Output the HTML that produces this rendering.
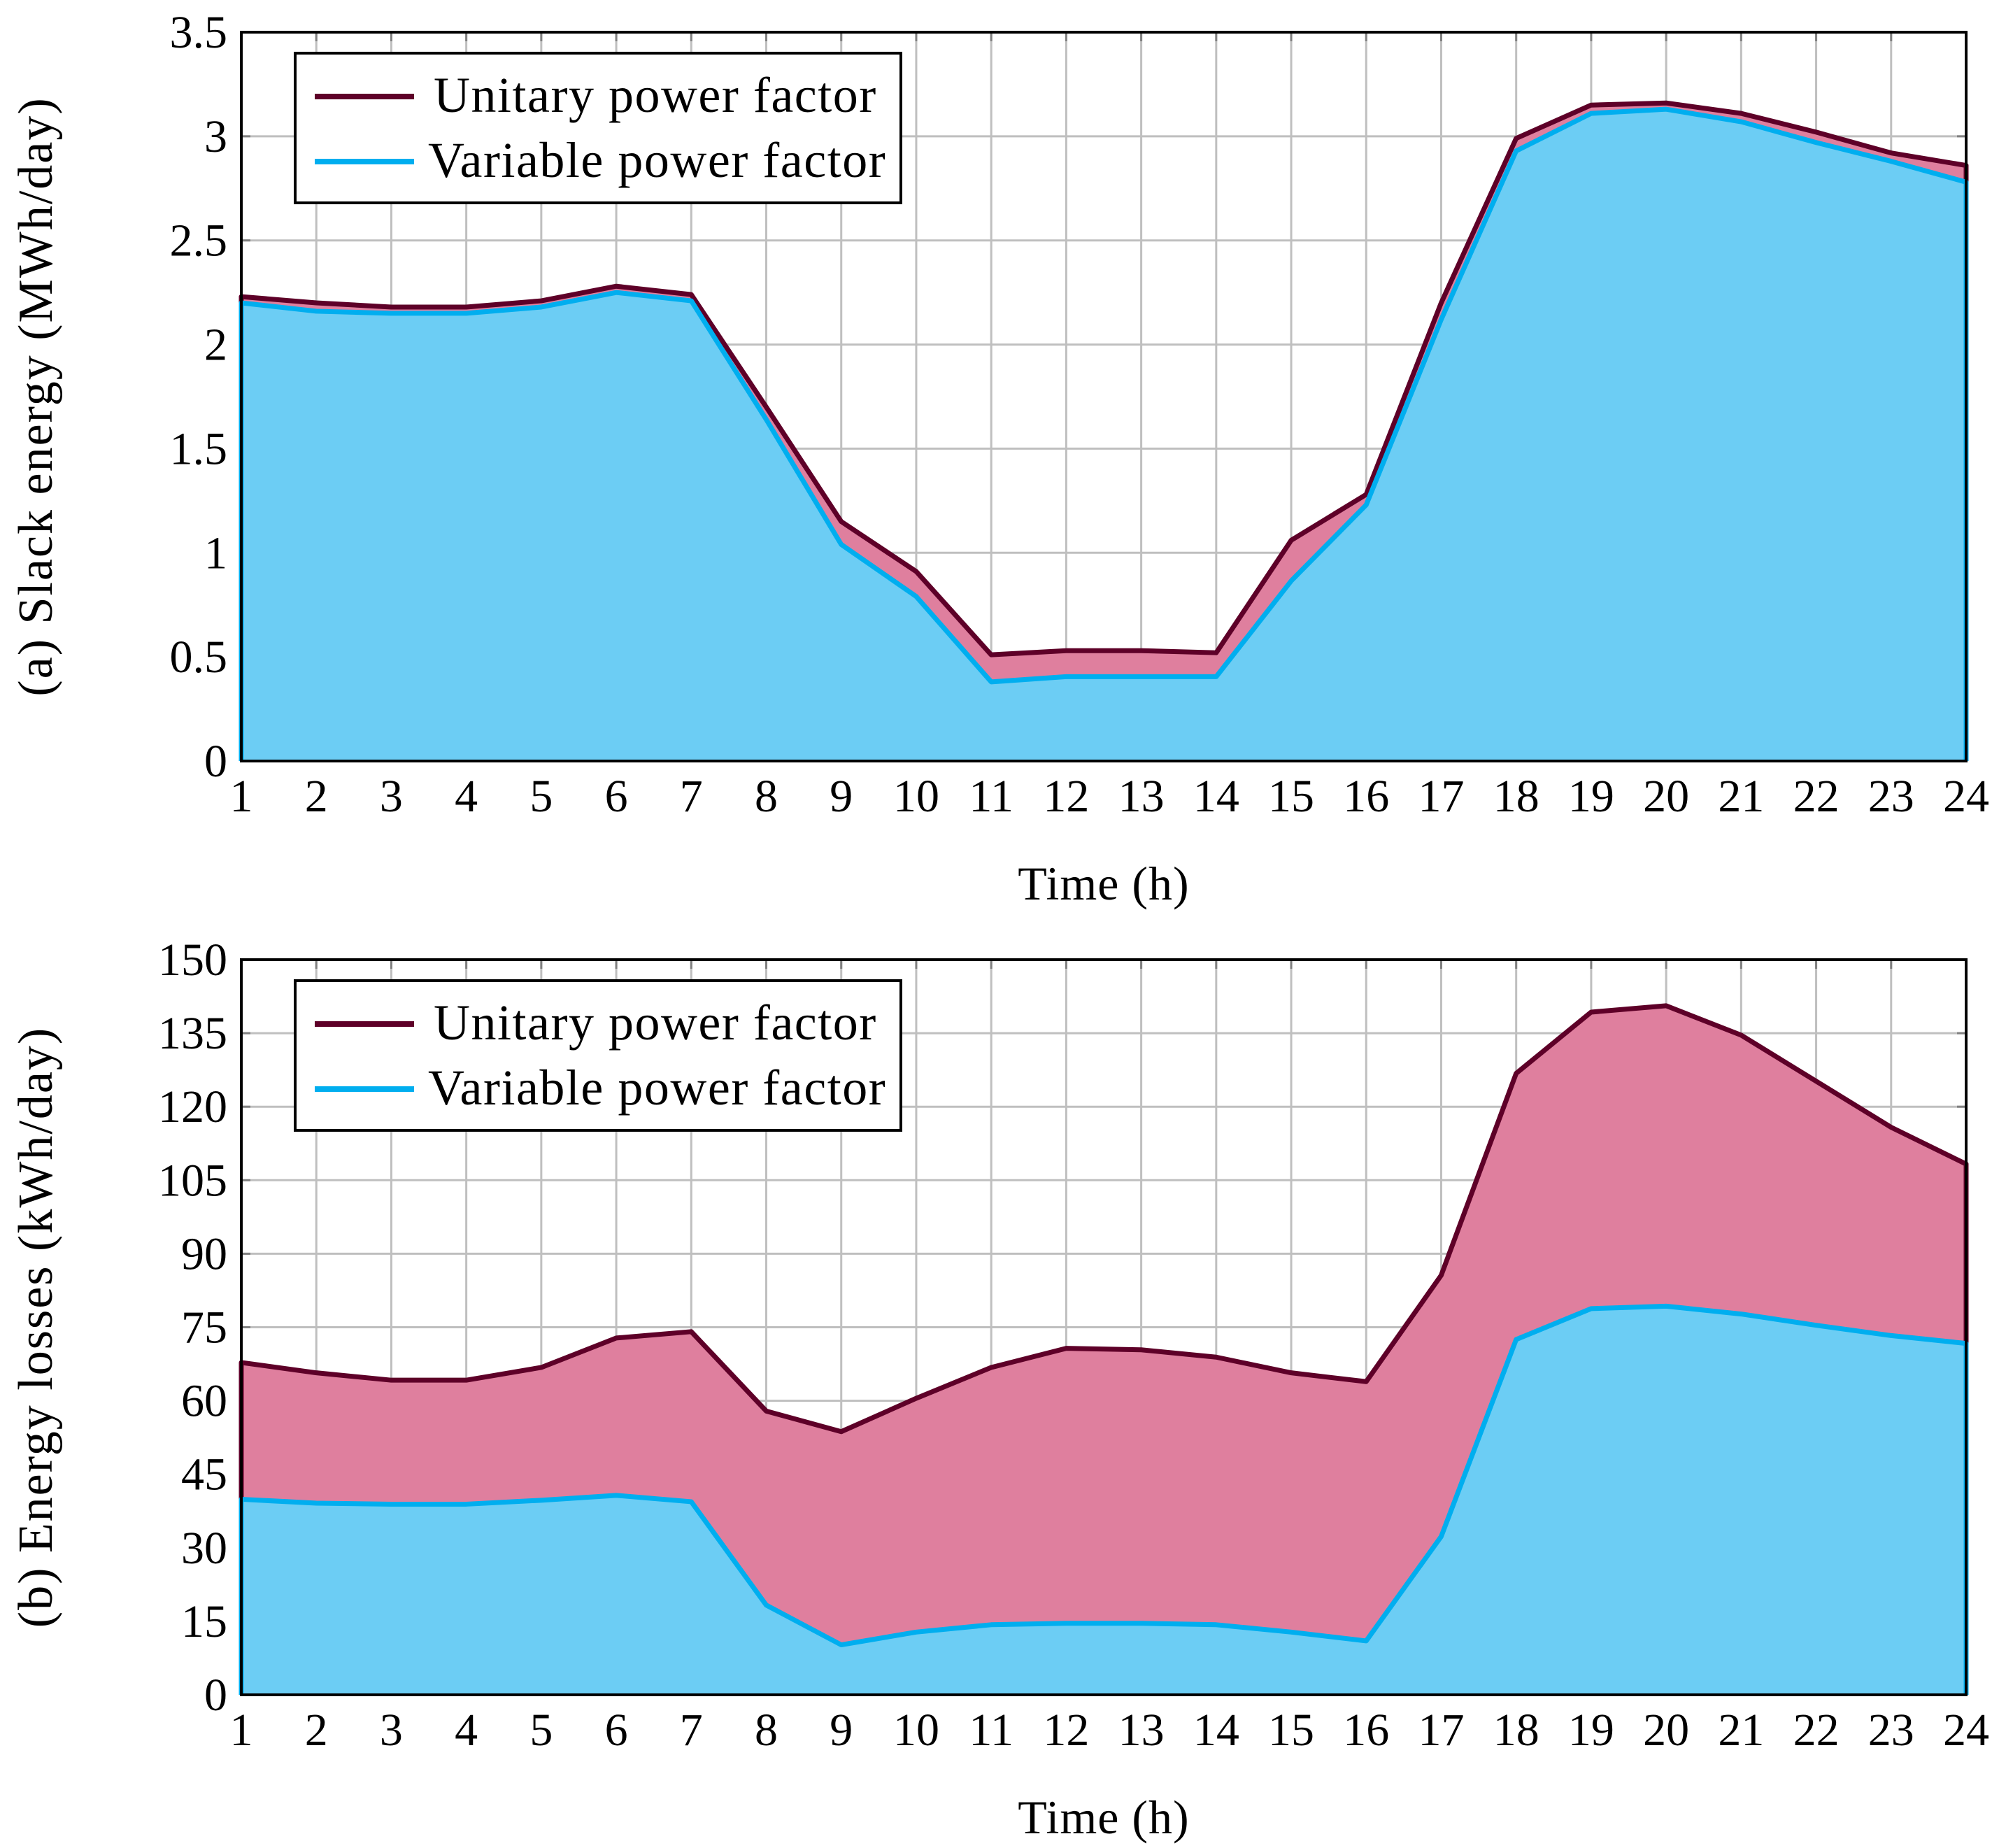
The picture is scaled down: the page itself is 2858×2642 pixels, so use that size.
<!DOCTYPE html>
<html><head><meta charset="utf-8"><style>
html,body{margin:0;padding:0;background:#fff}
svg{display:block}
text{font-family:"Liberation Serif",serif;fill:#000}
</style></head><body>
<svg id="chart" width="2858" height="2642" viewBox="0 0 2858 2642" xmlns="http://www.w3.org/2000/svg"></svg>
<script>
const hours = [1,2,3,4,5,6,7,8,9,10,11,12,13,14,15,16,17,18,19,20,21,22,23,24];
const slackUnitary = [2.23,2.2,2.18,2.18,2.21,2.28,2.24,1.70,1.15,0.91,0.51,0.53,0.53,0.52,1.06,1.28,2.2,2.99,3.15,3.16,3.11,3.02,2.92,2.86];
const slackVariable = [2.2,2.16,2.15,2.15,2.18,2.25,2.21,1.64,1.04,0.79,0.38,0.405,0.405,0.405,0.865,1.23,2.12,2.93,3.11,3.13,3.07,2.97,2.88,2.78];
const lossUnitary = [67.8,65.7,64.2,64.2,66.8,72.8,74.1,57.9,53.7,60.5,66.8,70.7,70.4,68.9,65.7,63.9,85.6,126.8,139.3,140.6,134.6,125.2,115.8,108.3];
const lossVariable = [39.9,39.1,38.9,38.9,39.7,40.7,39.4,18.3,10.2,12.8,14.3,14.6,14.6,14.3,12.8,11.0,32.3,72.5,78.8,79.3,77.7,75.4,73.3,71.7];
const slackTicks = ["0","0.5","1","1.5","2","2.5","3","3.5"];
const lossTicks = ["0","15","30","45","60","75","90","105","120","135","150"];

const NS="http://www.w3.org/2000/svg";
const svg=document.getElementById('chart');
function el(tag,attrs,parent){const e=document.createElementNS(NS,tag);for(const k in attrs)e.setAttribute(k,attrs[k]);(parent||svg).appendChild(e);return e;}

function panel(cfg){
  const L=345,R=2811,T=cfg.top,B=cfg.bottom;
  const g=el('g',{});
  
  
  const xs=h=>L+(h-1)*(R-L)/23;
  const ys=v=>B-(v-cfg.min)/(cfg.max-cfg.min)*(B-T);
  hours.forEach(h=>{const l=el('line',{x1:xs(h),x2:xs(h),y1:T,y2:B,stroke:'#bfbfbf','stroke-width':3},g);
    });
  cfg.ticks.forEach(t=>{const v=parseFloat(t);const l=el('line',{x1:L,x2:R,y1:ys(v),y2:ys(v),stroke:'#bfbfbf','stroke-width':3},g);
    });
  hours.forEach(h=>{el('line',{x1:xs(h),x2:xs(h),y1:T,y2:T+13,stroke:'#808080','stroke-width':3},g);el('line',{x1:xs(h),x2:xs(h),y1:B,y2:B-13,stroke:'#808080','stroke-width':3},g);});
  cfg.ticks.forEach(t=>{const v=parseFloat(t);el('line',{x1:L,x2:L+13,y1:ys(v),y2:ys(v),stroke:'#808080','stroke-width':3},g);el('line',{x1:R,x2:R-13,y1:ys(v),y2:ys(v),stroke:'#808080','stroke-width':3},g);});
  const pts=a=>a.map((v,i)=>xs(hours[i])+','+ys(v)).join(' ');
  const fillU=el('polygon',{points:pts(cfg.u)+' '+xs(24)+','+ys(cfg.min)+' '+xs(1)+','+ys(cfg.min),fill:'#df7f9e'},g);
  
  const fillV=el('polygon',{points:pts(cfg.v)+' '+xs(24)+','+ys(cfg.min)+' '+xs(1)+','+ys(cfg.min),fill:'#6ccdf4'},g);
  
  const lu=el('polyline',{points:xs(1)+','+ys(cfg.min)+' '+pts(cfg.u)+' '+xs(24)+','+ys(cfg.min),fill:'none',stroke:'#5e0028','stroke-width':7,'stroke-linejoin':'round'},g);
  
  const lv=el('polyline',{points:xs(1)+','+ys(cfg.min)+' '+pts(cfg.v)+' '+xs(24)+','+ys(cfg.min),fill:'none',stroke:'#00aeef','stroke-width':7,'stroke-linejoin':'round'},g);
  
  const fr=el('rect',{x:L,y:T,width:R-L,height:B-T,fill:'none',stroke:'#000','stroke-width':4},g);
  
  hours.forEach(h=>{const t=el('text',{x:xs(h),y:B+72,'font-size':66,'text-anchor':'middle'},g);t.textContent=h;
    });
  cfg.ticks.forEach(tk=>{const v=parseFloat(tk);const t=el('text',{x:L-20,y:ys(v)+22,'font-size':66,'text-anchor':'end'},g);t.textContent=tk;
    });
  const xt=el('text',{x:(L+R)/2,y:B+198,'font-size':68,'text-anchor':'middle','letter-spacing':1},g);xt.textContent='Time (h)';
  
  const yt=el('text',{x:0,y:0,'font-size':70,'text-anchor':'middle','letter-spacing':2,transform:'translate(74,'+((T+B)/2)+') rotate(-90)'},g);yt.textContent=cfg.ytitle;
  
  const lg=el('g',{},g);
  const ly=T+30;
  el('rect',{x:422,y:ly,width:866,height:214,fill:'#fff',stroke:'#000','stroke-width':4},lg);
  const e1=el('g',{},lg);
  el('line',{x1:450,x2:592,y1:ly+62,y2:ly+62,stroke:'#5e0028','stroke-width':8},e1);
  const t1=el('text',{x:620,y:ly+84,'font-size':72,'letter-spacing':1.5},e1);t1.textContent='Unitary power factor';
  const e2=el('g',{},lg);
  el('line',{x1:450,x2:592,y1:ly+155,y2:ly+155,stroke:'#00aeef','stroke-width':8},e2);
  const t2=el('text',{x:612,y:ly+177,'font-size':72,'letter-spacing':1.5},e2);t2.textContent='Variable power factor';
}
panel({name:'slack-energy-chart',top:46,bottom:1088,min:0,max:3.5,ticks:slackTicks,u:slackUnitary,v:slackVariable,ytitle:'(a) Slack energy (MWh/day)'});
panel({name:'energy-losses-chart',top:1372,bottom:2423,min:0,max:150,ticks:lossTicks,u:lossUnitary,v:lossVariable,ytitle:'(b) Energy losses (kWh/day)'});
</script>
</body></html>
